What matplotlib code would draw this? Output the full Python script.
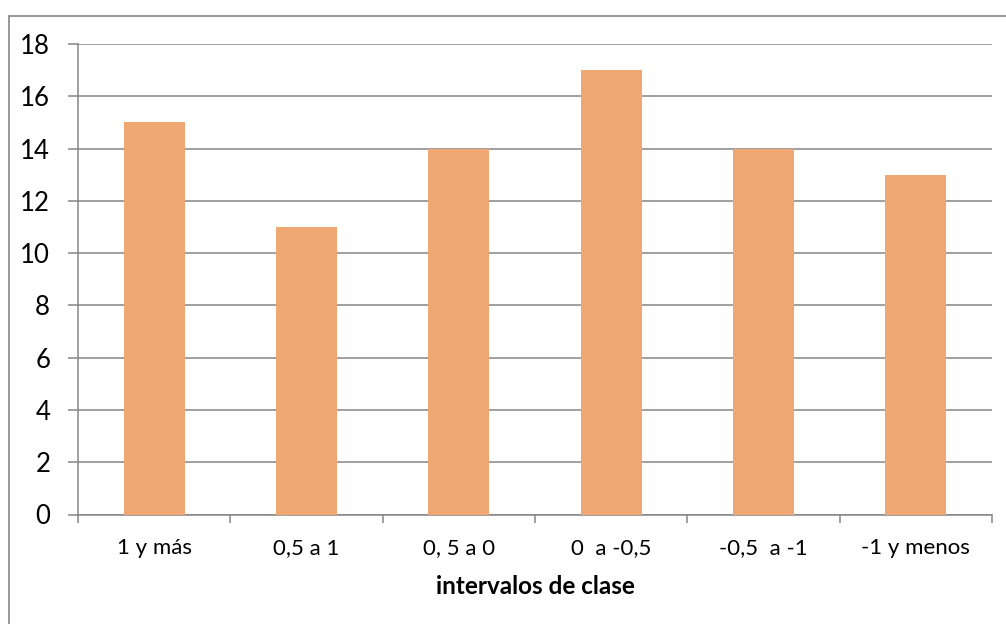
import matplotlib
matplotlib.use("Agg")
import matplotlib.pyplot as plt
from matplotlib.lines import Line2D
import numpy as np

categories = ["1 y más", "0,5 a 1", "0, 5 a 0", "0  a -0,5", "-0,5  a -1", "-1 y menos"]
values = [15, 11, 14, 17, 14, 13]
y_ticks = [0, 2, 4, 6, 8, 10, 12, 14, 16, 18]
x_title = "intervalos de clase"

plt.rcParams["font.family"] = ["Lato", "DejaVu Sans"]

W, H = 1006, 624
fig = plt.figure(figsize=(W / 100, H / 100), dpi=100)
fig.patch.set_facecolor("white")

grey = "#868686"

# outer chart frame
fx, fy = 8.5 / W, 1 - 15.5 / H
fig.add_artist(Line2D([fx, fx], [0, fy], transform=fig.transFigure, color=grey, lw=1.2))
fig.add_artist(Line2D([fx, 1], [fy, fy], transform=fig.transFigure, color=grey, lw=1.2))

ax = fig.add_axes([78 / W, 1 - 514.5 / H, (992 - 78) / W, (514.5 - 44) / H])
x = np.arange(len(categories))
ax.bar(x, values, width=0.4, color="#F0A872", zorder=3)

ax.set_xlim(-0.5, len(categories) - 0.5)
ax.set_ylim(0, 18)
ax.set_yticks(y_ticks)
ax.set_yticklabels([str(v) for v in y_ticks], fontsize=18.5)
ax.yaxis.grid(True, color=grey, lw=1.1, zorder=0)
ax.set_axisbelow(True)

ax.set_xticks(x)
ax.set_xticklabels(categories, fontsize=16)
ax.set_xticks(np.arange(-0.5, len(categories)), minor=True)
ax.tick_params(axis="x", which="major", length=0, pad=17)
ax.tick_params(axis="x", which="minor", length=6, width=1.1, color=grey, direction="out")
ax.tick_params(axis="y", length=7, width=1.1, color=grey, pad=13)

for side in ["top", "right"]:
    ax.spines[side].set_visible(False)
for side in ["left", "bottom"]:
    ax.spines[side].set_color(grey)
    ax.spines[side].set_linewidth(1.1)

ax.set_xlabel(x_title, fontsize=17.5, fontweight="bold", labelpad=12)

fig.savefig("out.png", dpi=100, facecolor="white")
